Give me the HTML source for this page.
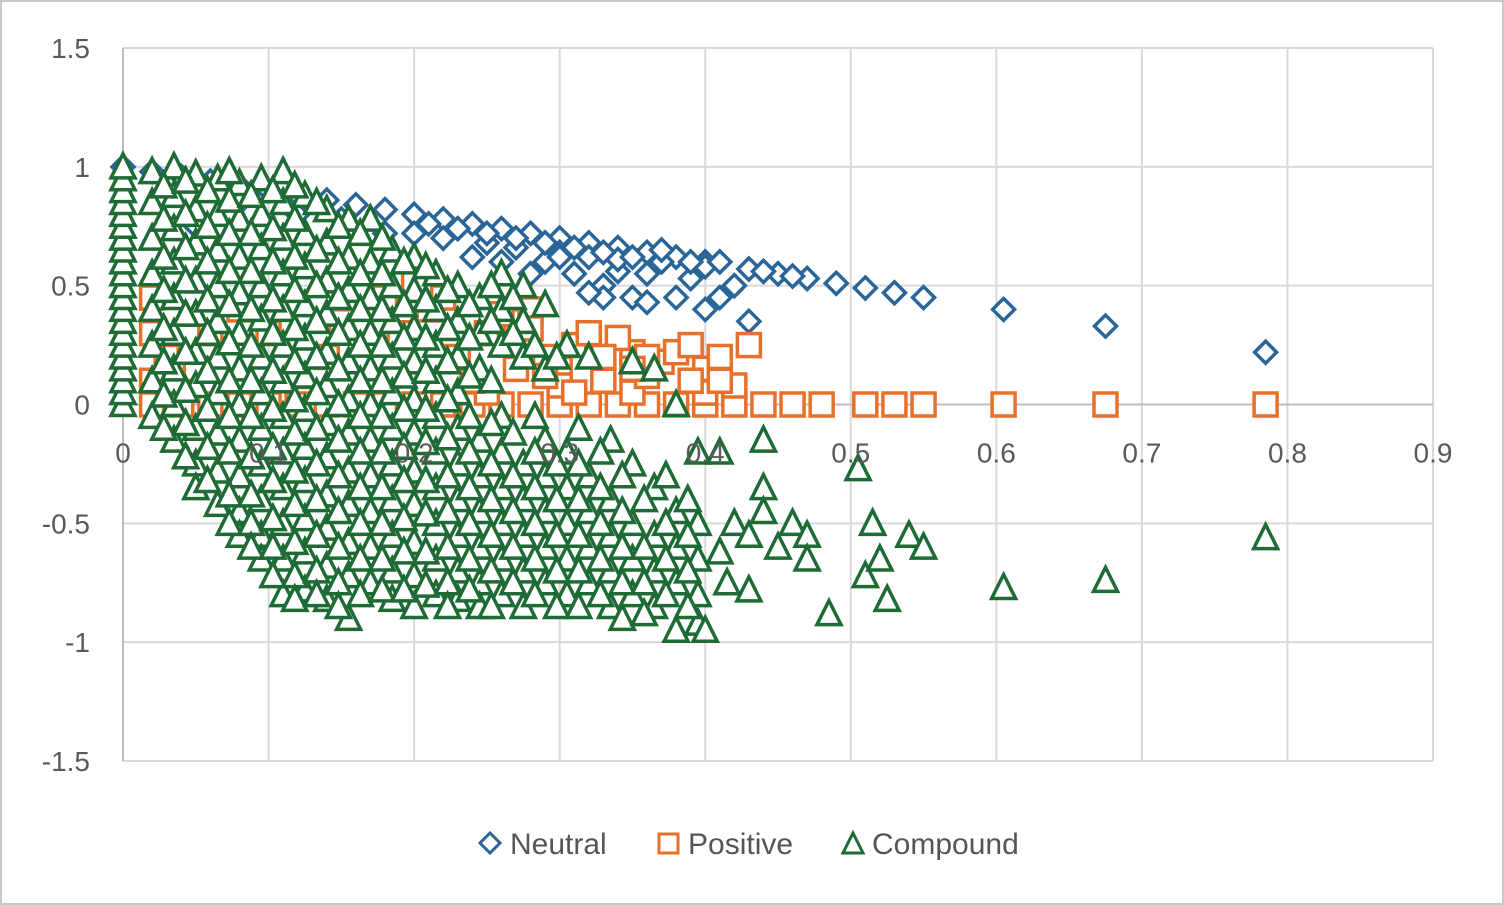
<!DOCTYPE html>
<html><head><meta charset="utf-8">
<style>
html,body{margin:0;padding:0;background:#fff;}
#wrap{position:relative;width:1504px;height:905px;box-sizing:border-box;border:2px solid #c8c8c8;background:#fff;overflow:hidden;}
svg text{font-family:"Liberation Sans",sans-serif;}
</style></head>
<body>
<div id="wrap">
<svg id="chart" width="1500" height="901" viewBox="2 2 1500 901" xmlns="http://www.w3.org/2000/svg">
<g id="grid"></g>
<g id="axes"></g>
<g id="neutral"></g>
<g id="positive"></g>
<g id="compound"></g>
<g id="xlabels"></g>
<g id="ylabels"></g>
<g id="legend">
  <g>
    <polygon points="490,833 500,843 490,853 480,843" fill="#fff" stroke="#2a6598" stroke-width="3"/>
    <text x="510" y="854" font-size="30" fill="#555">Neutral</text>
  </g>
  <g>
    <rect x="659" y="834" width="19" height="19" fill="#fff" stroke="#e8702a" stroke-width="3"/>
    <text x="688" y="854" font-size="30" fill="#555">Positive</text>
  </g>
  <g>
    <polygon points="853,833 863,853 843,853" fill="#fff" stroke="#1e6b35" stroke-width="3"/>
    <text x="872" y="854" font-size="30" fill="#555">Compound</text>
  </g>
</g>
</svg>
</div>
<script>
// ---- data ----
const xTicks=["0","0.1","0.2","0.3","0.4","0.5","0.6","0.7","0.8","0.9"];
const xTickValues=[0,0.1,0.2,0.3,0.4,0.5,0.6,0.7,0.8,0.9];
const yTickValues=[1.5,1,0.5,0,-0.5,-1,-1.5];
const yTicks=["1.5","1","0.5","0","-0.5","-1","-1.5"];
const neutralPts=[[0,1],[0.02,0.98],[0.04,0.96],[0.06,0.94],[0.08,0.92],[0.1,0.9],[0.12,0.88],[0.14,0.86],[0.16,0.84],[0.18,0.82],[0.2,0.8],[0.22,0.78],[0.24,0.76],[0.26,0.74],[0.28,0.72],[0.3,0.7],[0.32,0.68],[0.34,0.66],[0.36,0.64],[0.38,0.62],[0.4,0.6],[0.43,0.57],[0.45,0.55],[0.47,0.53],[0.49,0.51],[0.51,0.49],[0.53,0.47],[0.55,0.45],[0.605,0.4],[0.675,0.33],[0.785,0.22],
[0.2,0.72],[0.22,0.7],[0.25,0.68],[0.27,0.66],[0.29,0.6],[0.3,0.64],[0.31,0.55],[0.32,0.62],[0.33,0.5],[0.34,0.56],[0.35,0.45],[0.36,0.55],[0.37,0.6],[0.38,0.45],[0.33,0.45],[0.32,0.47],[0.28,0.55],[0.26,0.6],[0.24,0.62],[0.39,0.53],[0.4,0.4],[0.41,0.45],[0.42,0.5],[0.43,0.35],[0.44,0.56],[0.4,0.58],[0.36,0.43],[0.05,0.75],[0.08,0.85],[0.12,0.8],[0.15,0.78],[0.18,0.72],[0.3,0.62],[0.34,0.61],[0.25,0.72],[0.41,0.6],[0.46,0.54],[0.27,0.7],[0.29,0.68],[0.31,0.66],[0.33,0.64],[0.35,0.62],[0.37,0.65],[0.39,0.6],[0.23,0.74],[0.21,0.76]];
const positivePts=[[0.02,0],[0.04,0],[0.06,0],[0.08,0],[0.1,0],[0.12,0],[0.14,0],[0.16,0],[0.18,0],[0.2,0],[0.22,0],[0.24,0],[0.26,0],[0.28,0],[0.3,0],[0.32,0],[0.34,0],[0.36,0],[0.38,0],[0.4,0],[0.42,0],[0.44,0],[0.46,0],[0.48,0],[0.51,0],[0.53,0],[0.55,0],[0.605,0],[0.675,0],[0.785,0],
[0.02,0.45],[0.03,0.2],[0.02,0.1],[0.05,0.15],[0.1,0.3],[0.15,0.35],[0.18,0.45],[0.2,0.52],[0.21,0.4],[0.22,0.45],[0.25,0.3],[0.27,0.35],[0.28,0.4],[0.29,0.2],[0.3,0.15],[0.31,0.25],[0.32,0.3],[0.33,0.1],[0.35,0.05],[0.3,0.08],[0.36,0.12],[0.37,0.18],[0.38,0.22],[0.39,0.25],[0.4,0.15],[0.41,0.2],[0.42,0.08],[0.43,0.25],[0.4,0.05],[0.35,0.22],[0.34,0.28],[0.31,0.05],[0.27,0.15],[0.25,0.05],[0.23,0.2],[0.24,0.1],[0.19,0.3],[0.17,0.1],[0.14,0.2],[0.12,0.12],[0.08,0.4],[0.06,0.3],[0.02,0.3],[0.26,0.38],[0.28,0.32],[0.29,0.12],[0.33,0.2],[0.36,0.2],[0.39,0.1],[0.41,0.1],[0.35,0.15]];
const compoundZeroCol=[0,0.05,0.1,0.15,0.2,0.25,0.3,0.35,0.4,0.45,0.5,0.55,0.6,0.65,0.7,0.75,0.8,0.85,0.9,0.95,1];
const compoundCols=[
[0.02,[0.98,0.85,0.7,0.55,0.4,0.25,0.1,-0.05]],
[0.035,[1.0,0.88,0.74,0.6,0.45,0.3,0.15,0.0,-0.15]],
[0.05,[0.97,0.82,0.68,0.52,0.38,0.22,0.08,-0.1,-0.25,-0.35]],
[0.065,[0.95,0.8,0.65,0.5,0.35,0.2,0.05,-0.12,-0.28,-0.42]],
[0.08,[0.93,0.78,0.62,0.47,0.3,0.15,0,-0.15,-0.3,-0.45,-0.55]],
[0.095,[0.95,0.8,0.66,0.5,0.36,0.2,0.05,-0.1,-0.25,-0.4,-0.55,-0.65]],
[0.11,[0.98,0.85,0.7,0.55,0.4,0.25,0.1,-0.05,-0.2,-0.35,-0.5,-0.65,-0.8]],
[0.125,[0.88,0.72,0.58,0.42,0.28,0.12,-0.02,-0.18,-0.32,-0.48,-0.62,-0.78]],
[0.14,[0.82,0.68,0.52,0.38,0.22,0.08,-0.08,-0.22,-0.38,-0.52,-0.68,-0.82]],
[0.155,[0.78,0.62,0.48,0.32,0.18,0.02,-0.12,-0.28,-0.42,-0.58,-0.72,-0.9]],
[0.17,[0.78,0.6,0.45,0.3,0.15,0,-0.15,-0.3,-0.45,-0.6,-0.75]],
[0.185,[0.65,0.5,0.35,0.2,0.05,-0.1,-0.25,-0.4,-0.55,-0.7,-0.82]],
[0.2,[0.62,0.48,0.32,0.18,0.02,-0.12,-0.28,-0.42,-0.58,-0.72,-0.85]],
[0.215,[0.55,0.4,0.25,0.1,-0.05,-0.2,-0.35,-0.5,-0.65,-0.8]],
[0.23,[0.5,0.35,0.2,0.05,-0.1,-0.25,-0.4,-0.55,-0.7,-0.82]],
[0.245,[0.45,0.3,0.15,-0.15,-0.3,-0.45,-0.6,-0.75,-0.85]],
[0.26,[0.55,0.4,0.25,-0.05,-0.2,-0.35,-0.5,-0.65,-0.8]],
[0.275,[0.5,0.35,0.2,-0.25,-0.4,-0.55,-0.7,-0.85]],
[0.29,[0.42,0.15,-0.15,-0.3,-0.45,-0.6,-0.75]],
[0.305,[0.25,-0.2,-0.35,-0.5,-0.65,-0.8]],
[0.32,[0.2,-0.3,-0.45,-0.6,-0.75]],
[0.335,[-0.15,-0.4,-0.55,-0.7,-0.85]],
[0.35,[0.18,-0.25,-0.5,-0.65,-0.8]],
[0.365,[0.15,-0.35,-0.55,-0.7,-0.85]],
[0.38,[0,-0.45,-0.6,-0.75,-0.95]],
[0.395,[-0.2,-0.5,-0.65,-0.8,-0.92]]];
const compoundCols2=[
[0.028,[0.92,0.78,0.62,0.48,0.32,0.18,0.04,-0.1]],
[0.043,[0.94,0.8,0.66,0.52,0.38,0.22,0.06,-0.08,-0.22]],
[0.058,[0.9,0.75,0.6,0.44,0.3,0.14,-0.02,-0.18,-0.32]],
[0.073,[0.98,0.86,0.72,0.56,0.42,0.26,0.1,-0.05,-0.2,-0.38,-0.5]],
[0.088,[0.88,0.72,0.56,0.4,0.25,0.1,-0.05,-0.22,-0.38,-0.5,-0.6]],
[0.103,[0.9,0.74,0.6,0.44,0.3,0.14,-0.02,-0.18,-0.32,-0.48,-0.6,-0.72]],
[0.118,[0.92,0.78,0.62,0.48,0.32,0.18,0.02,-0.12,-0.28,-0.42,-0.58,-0.72,-0.82]],
[0.133,[0.85,0.65,0.5,0.35,0.2,0.05,-0.1,-0.25,-0.4,-0.55,-0.7,-0.8]],
[0.148,[0.75,0.6,0.45,0.3,0.15,0,-0.15,-0.3,-0.45,-0.6,-0.75,-0.85]],
[0.163,[0.72,0.55,0.4,0.25,0.1,-0.05,-0.2,-0.35,-0.5,-0.65,-0.8]],
[0.178,[0.7,0.55,0.4,0.25,0.1,-0.05,-0.2,-0.35,-0.5,-0.65,-0.78]],
[0.193,[0.6,0.42,0.28,0.12,-0.02,-0.18,-0.32,-0.48,-0.62,-0.78]],
[0.208,[0.58,0.44,0.28,0.14,-0.02,-0.16,-0.32,-0.46,-0.62,-0.76]],
[0.223,[0.48,0.32,0.18,0.02,-0.14,-0.3,-0.45,-0.6,-0.75,-0.85]],
[0.238,[0.42,0.28,0.12,-0.05,-0.2,-0.35,-0.5,-0.65,-0.78]],
[0.253,[0.5,0.35,0.1,-0.08,-0.25,-0.4,-0.55,-0.7,-0.85]],
[0.268,[0.45,0.3,-0.12,-0.3,-0.45,-0.6,-0.75]],
[0.283,[0.25,-0.05,-0.2,-0.35,-0.5,-0.65,-0.8]],
[0.298,[0.2,-0.25,-0.4,-0.55,-0.7,-0.85]],
[0.313,[-0.1,-0.25,-0.4,-0.55,-0.7,-0.85]],
[0.328,[-0.2,-0.35,-0.5,-0.65,-0.8]],
[0.343,[-0.3,-0.45,-0.6,-0.75,-0.9]],
[0.358,[-0.4,-0.6,-0.75,-0.88]],
[0.373,[-0.3,-0.5,-0.65,-0.8]],
[0.388,[-0.4,-0.55,-0.7,-0.85]]];
const compoundSparse=[[0.41,-0.2],[0.42,-0.5],[0.41,-0.62],[0.4,-0.95],[0.415,-0.75],[0.43,-0.55],[0.44,-0.15],[0.44,-0.35],[0.44,-0.45],[0.45,-0.6],[0.43,-0.78],[0.46,-0.5],[0.47,-0.55],[0.47,-0.65],[0.485,-0.88],[0.505,-0.27],[0.51,-0.72],[0.515,-0.5],[0.52,-0.65],[0.525,-0.82],[0.54,-0.55],[0.55,-0.6],[0.605,-0.77],[0.675,-0.74],[0.785,-0.56]];

// ---- scales ----
const X0=123,X1=1433,Y0=48,Y1=761;
function sx(v){return X0+(v-0)/(0.9-0)*(X1-X0);}
function sy(v){return Y0+(1.5-v)/(3)*(Y1-Y0);}
const NS="http://www.w3.org/2000/svg";
function mk(tag,attrs,parent){const e=document.createElementNS(NS,tag);for(const k in attrs)e.setAttribute(k,attrs[k]);parent.appendChild(e);return e;}

const grid=document.getElementById('grid');
xTickValues.forEach((v,i)=>{if(i===0)return;
  const l=mk('line',{x1:sx(v),x2:sx(v),y1:Y0,y2:Y1,stroke:'#d9d9d9','stroke-width':2},grid);
  
  });
yTickValues.forEach(v=>{if(v===0)return;
  const l=mk('line',{x1:X0,x2:X1,y1:sy(v),y2:sy(v),stroke:'#d9d9d9','stroke-width':2},grid);
  
  });
const axes=document.getElementById('axes');
const ya=mk('line',{x1:sx(0),x2:sx(0),y1:Y0,y2:Y1,stroke:'#bfbfbf','stroke-width':2},axes);


const xa=mk('line',{x1:X0,x2:X1,y1:sy(0),y2:sy(0),stroke:'#bfbfbf','stroke-width':2},axes);



const xl=document.getElementById('xlabels');
xTickValues.forEach((v,i)=>{const t=mk('text',{x:sx(v),y:sy(0)+58,'text-anchor':'middle','font-size':28,fill:'#595959'},xl);t.textContent=xTicks[i];
  
  });
const yl=document.getElementById('ylabels');
yTickValues.forEach((v,i)=>{const t=mk('text',{x:90,y:sy(v)+10,'text-anchor':'end','font-size':28,fill:'#595959'},yl);t.textContent=yTicks[i];
  
  });

const gN=document.getElementById('neutral');
neutralPts.forEach(p=>{const x=sx(p[0]),y=sy(p[1]);
  const m=mk('polygon',{points:`${x},${y-11} ${x+11},${y} ${x},${y+11} ${x-11},${y}`,fill:'#fff',stroke:'#2a6598','stroke-width':3.5},gN);
  
  });
const gP=document.getElementById('positive');
positivePts.forEach(p=>{const x=sx(p[0]),y=sy(p[1]);
  const m=mk('rect',{x:x-11.5,y:y-11.5,width:23,height:23,fill:'#fff',stroke:'#e8702a','stroke-width':3.5},gP);
  
  });
const gC=document.getElementById('compound');
function tri(px,py){const x=sx(px),y=sy(py);
  const m=mk('polygon',{points:`${x},${y-13} ${x+12},${y+11} ${x-12},${y+11}`,fill:'#fff',stroke:'#1e6b35','stroke-width':3.5},gC);
  
  }
compoundZeroCol.forEach(v=>tri(0,v));
compoundCols.forEach(c=>c[1].forEach(v=>tri(c[0],v)));
compoundCols2.forEach(c=>c[1].forEach(v=>tri(c[0],v)));
compoundSparse.forEach(p=>tri(p[0],p[1]));
</script>
</body></html>
